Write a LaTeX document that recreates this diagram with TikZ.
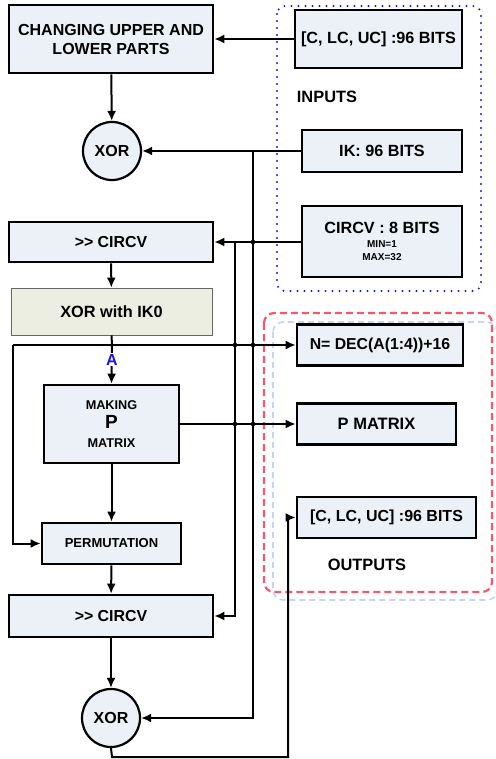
\documentclass[tikz,border=0pt]{standalone}
\usepackage{fontspec}
\setmainfont{Liberation Sans}
\usetikzlibrary{arrows.meta,calc}
\definecolor{boxfill}{RGB}{236,240,247}
\definecolor{beige}{RGB}{237,238,226}
\definecolor{dotblue}{RGB}{20,20,235}
\definecolor{dashred}{RGB}{240,90,110}
\definecolor{faintblue}{RGB}{200,212,236}
\begin{document}
\begin{tikzpicture}[x=1pt,y=-1pt,
  box/.style={draw=black,line width=2.6pt,fill=boxfill,inner sep=0pt,align=center,font=\bfseries},
  gbox/.style={draw=black!60,line width=0.6pt,fill=beige,inner sep=0pt,align=center,font=\bfseries},
  xorc/.style={circle,draw=black,line width=2.2pt,fill=boxfill,inner sep=0pt,minimum size=58pt,font=\bfseries\fontsize{16}{16}\selectfont},
  lbl/.style={font=\bfseries\fontsize{16.4}{16}\selectfont,inner sep=0pt},
  arr/.style={line width=2pt,-{Latex[length=10pt,width=9pt]}},
  ln/.style={line width=2pt},
  jdot/.style={fill=black,radius=2.3pt}]
\useasboundingbox (0,0) rectangle (495,759);
% group frames
\draw[faintblue,line width=1.6pt,dash pattern=on 6pt off 4pt,rounded corners=10pt] (273,322) rectangle (497,600);
\draw[dashred,line width=2.2pt,dash pattern=on 7pt off 4pt,rounded corners=10pt] (264,313) rectangle (492,592);
\draw[dotblue,line width=2.2pt,line cap=round,dash pattern=on 0pt off 7pt,rounded corners=8pt] (277,6) rectangle (481,291);
% left column
\node[box,minimum width=204pt,minimum height=68pt,font=\bfseries\fontsize{16}{19}\selectfont] (cul) at (111,39) {CHANGING UPPER AND\\LOWER PARTS};
\node[xorc] (xor1) at (112,151) {XOR};
\node[box,minimum width=204pt,minimum height=40pt,font=\bfseries\fontsize{15.9}{16}\selectfont] (ck1) at (111,242) {>{}> CIRCV};
\node[gbox,minimum width=201pt,minimum height=47pt,font=\bfseries\fontsize{16.3}{16}\selectfont] (xik) at (111.5,311.5) {XOR with IK0};
\node[box,minimum width=135pt,minimum height=78pt,font=\bfseries\fontsize{12.7}{19}\selectfont] (mp) at (111.5,424) {MAKING\\{\fontsize{19}{19}\selectfont P}\\MATRIX};
\node[box,minimum width=139pt,minimum height=41pt,font=\bfseries\fontsize{13}{15}\selectfont] (perm) at (111.5,543.5) {PERMUTATION};
\node[box,minimum width=204pt,minimum height=42pt,font=\bfseries\fontsize{15.9}{16}\selectfont] (ck2) at (111,616) {>{}> CIRCV};
\node[xorc] (xor2) at (111,718) {XOR};
% inputs
\node[box,minimum width=167pt,minimum height=58pt,font=\bfseries\fontsize{16.2}{16}\selectfont] (in1) at (378.5,39) {[C, LC, UC] :96 BITS};
\node[lbl] (inputs) at (327,97) {INPUTS};
\node[box,minimum width=160pt,minimum height=42pt,font=\bfseries\fontsize{16.2}{16}\selectfont] (ik) at (382,151) {IK: 96 BITS};
\node[box,minimum width=160pt,minimum height=71pt,font=\bfseries\fontsize{10}{13}\selectfont] (circv) at (382,241.5) {{\fontsize{16.2}{16}\selectfont CIRCV : 8 BITS}\\[1pt]MIN=1\\MAX=32};
% outputs
\node[box,minimum width=166pt,minimum height=41pt,font=\bfseries\fontsize{15.8}{16}\selectfont] (nbox) at (380,345) {N= DEC(A(1:4))+16};
\node[box,minimum width=159pt,minimum height=41pt,font=\bfseries\fontsize{16.5}{16}\selectfont] (pm) at (376.5,424) {P MATRIX};
\node[box,minimum width=179pt,minimum height=41pt,font=\bfseries\fontsize{16}{16}\selectfont] (out) at (386.5,517.5) {[C, LC, UC] :96 BITS};
\node[lbl] (outputs) at (367,565) {OUTPUTS};
% helper coordinates
\coordinate (tIK) at (253,151);
\coordinate (tC) at (235,242);
\coordinate (jA) at (112,345);
\coordinate (L1) at (13,345);
\coordinate (b1) at (112,757);
\coordinate (b2) at (288,757);
% connectors
\draw[arr] (in1.west) -- (cul.east |- in1.west);
\draw[arr] (cul) -- (xor1);
\draw[arr] (ik.west) -- (xor1.east);
\draw[arr] (tIK) |- (xor2.east);
\draw[arr] (circv.west |- tC) -- (ck1.east |- tC);
\draw[arr] (tC) |- (ck2.east);
\draw[arr] (ck1) -- (xik);
\draw[ln] (xik.south) -- (jA);
\draw[arr] (jA) -- node[pos=0.38,fill=white,inner sep=1pt,text=dotblue,font=\bfseries\fontsize{16}{16}\selectfont] {A} (mp.north);
\draw[arr] (L1) -- (nbox.west |- L1);
\draw[arr] (L1) |- (perm.west);
\draw[arr] (mp.east) -- (pm.west |- mp.east);
\draw[arr] (mp) -- (perm);
\draw[arr] (perm) -- (ck2);
\draw[arr] (ck2) -- (xor2);
\draw[arr] (xor2.south) -- (b1) -- (b2) |- (out.west);
% junction dots
\fill[jdot] (253,242) circle;
\fill[jdot] (235,345) circle;
\fill[jdot] (253,345) circle;
\fill[jdot] (235,424) circle;
\fill[jdot] (253,424) circle;
\end{tikzpicture}
\end{document}
